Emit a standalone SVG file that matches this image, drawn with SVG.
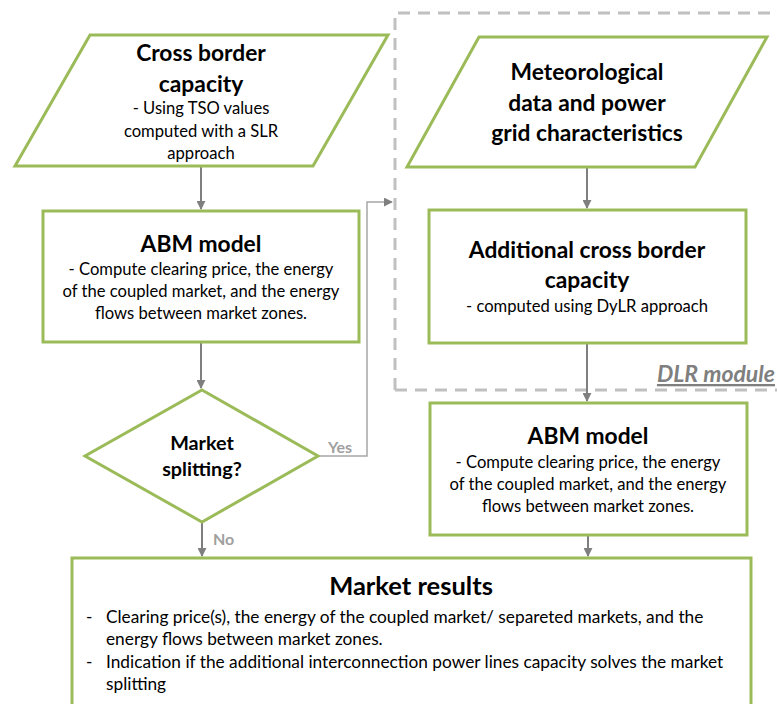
<svg xmlns="http://www.w3.org/2000/svg" width="777" height="704" viewBox="0 0 777 704">
<defs>
<style>
text{font-family:Lato,"Liberation Sans",sans-serif;fill:#000}
.node{fill:#fff;stroke:#9bbb59;stroke-width:3}
.t{font-weight:bold;font-size:22.8px;text-anchor:middle}
.s{font-size:16.6px;text-anchor:middle}
.b{font-size:17.3px}
.conn{fill:none;stroke:#7f7f7f;stroke-width:2}
.conn2{fill:none;stroke:#a6a6a6;stroke-width:1.5}
.lbl{font-weight:bold;font-size:16px;fill:#a0a0a0}
</style>
<marker id="ah" viewBox="0 0 10 10" refX="9" refY="5" markerWidth="4.5" markerHeight="4.5" orient="auto" markerUnits="strokeWidth">
<path d="M0,0 L10,5 L0,10 z" fill="#7f7f7f"/>
</marker>
<marker id="ah2" viewBox="0 0 10 10" refX="9" refY="5" markerWidth="6" markerHeight="6" orient="auto" markerUnits="strokeWidth">
<path d="M0,0 L10,5 L0,10 z" fill="#7f7f7f"/>
</marker>
</defs>

<g id="dlr-module">
<path d="M395,390 V13 H777 M395,390 H777" fill="none" stroke="#c0c0c0" stroke-width="3" stroke-dasharray="12,8"/>
<text x="775" y="382" text-anchor="end" font-style="italic" font-weight="bold" font-size="23" style="fill:#7f7f7f" text-decoration="underline">DLR module</text>
</g>

<g id="connectors">
<path class="conn" d="M201,166 V209" marker-end="url(#ah)"/>
<path class="conn" d="M201,342 V388" marker-end="url(#ah)"/>
<path class="conn" d="M202,522 V556" marker-end="url(#ah)"/>
<path class="conn2" d="M318,456 H367 V202 H392" marker-end="url(#ah2)"/>
<path class="conn" d="M587,167 V208" marker-end="url(#ah)"/>
<path class="conn" d="M587,343 V401" marker-end="url(#ah)"/>
<path class="conn" d="M588,535 V556" marker-end="url(#ah)"/>
<text class="lbl" x="328" y="453">Yes</text>
<text class="lbl" x="213" y="545">No</text>
</g>

<g id="cross-border-capacity">
<polygon class="node" points="90,35 388,35 313,166 15,166"/>
<text class="t" x="201" y="61">Cross border</text>
<text class="t" x="201" y="92">capacity</text>
<text class="s" x="201" y="114">- Using TSO values</text>
<text class="s" x="201" y="137">computed with a SLR</text>
<text class="s" x="201" y="159">approach</text>
</g>

<g id="abm-model-1">
<rect class="node" x="43" y="211" width="316" height="131"/>
<text class="t" x="201" y="252">ABM model</text>
<text class="s" x="201" y="275">- Compute clearing price, the energy</text>
<text class="s" x="201" y="297">of the coupled market, and the energy</text>
<text class="s" x="201" y="319">flows between market zones.</text>
</g>

<g id="market-splitting">
<polygon class="node" points="202,390 318,456 202,522 85,456"/>
<text x="202" y="450" text-anchor="middle" font-weight="bold" font-size="19.8">Market</text>
<text x="202" y="476" text-anchor="middle" font-weight="bold" font-size="19.8">splitting?</text>
</g>

<g id="meteorological-data">
<polygon class="node" points="479,37 767,37 695,167 407,167"/>
<text class="t" x="587" y="80">Meteorological</text>
<text class="t" x="587" y="111">data and power</text>
<text class="t" x="587" y="141">grid characteristics</text>
</g>

<g id="additional-capacity">
<rect class="node" x="429" y="210" width="317" height="133"/>
<text class="t" x="587" y="258">Additional cross border</text>
<text class="t" x="587" y="288">capacity</text>
<text class="s" x="587" y="312">- computed using DyLR approach</text>
</g>

<g id="abm-model-2">
<rect class="node" x="430" y="403" width="317" height="132"/>
<text class="t" x="588" y="444">ABM model</text>
<text class="s" x="588" y="468">- Compute clearing price, the energy</text>
<text class="s" x="588" y="490">of the coupled market, and the energy</text>
<text class="s" x="588" y="512">flows between market zones.</text>
</g>

<g id="market-results">
<rect class="node" x="72" y="558" width="679" height="160"/>
<text x="411" y="595" text-anchor="middle" font-weight="bold" font-size="25.5">Market results</text>
<text class="b" x="86" y="623">-</text>
<text class="b" x="106" y="623">Clearing price(s), the energy of the coupled market/ separeted markets, and the</text>
<text class="b" x="106" y="645">energy flows between market zones.</text>
<text class="b" x="86" y="668">-</text>
<text class="b" x="106" y="668">Indication if the additional interconnection power lines capacity solves the market</text>
<text class="b" x="106" y="690">splitting</text>
</g>
</svg>
